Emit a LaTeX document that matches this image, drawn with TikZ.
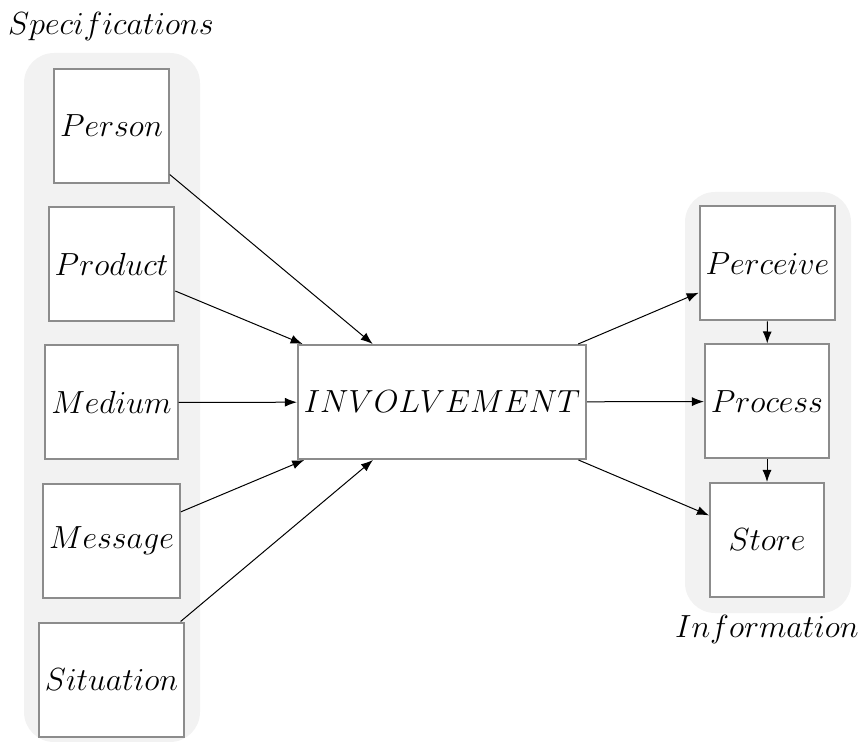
\documentclass[tikz,border=0pt]{standalone}
\usetikzlibrary{arrows.meta,backgrounds}
% let math italic scale to any size
\DeclareFontShape{OML}{cmm}{m}{it}{<-> cmmi12}{}
\definecolor{groupgray}{HTML}{F2F2F2}
\definecolor{boxedge}{HTML}{8C8C8C}
\tikzset{
  itembox/.style={draw=boxedge, line width=1pt, fill=white,
    minimum width=57pt, minimum height=57pt, inner xsep=3pt,
    font=\fontsize{16}{19}\selectfont},
  grouparea/.style={fill=groupgray, draw=none, rounded corners=15pt},
  grouplabel/.style={anchor=base, inner sep=0pt, font=\fontsize{16}{19}\selectfont},
  flow/.style={-{Latex[length=6pt,width=4.5pt]}, line width=0.5pt, black}
}
\begin{document}
\begin{tikzpicture}[x=0.5pt, y=-0.5pt]
  \useasboundingbox (0,0) rectangle (861,742);

  % left column: specifications
  \node[itembox] (person)    at (111.5,126)   {$Person$};
  \node[itembox] (product)   at (111.5,264.5) {$Product$};
  \node[itembox] (medium)    at (111.5,402.5) {$Medium$};
  \node[itembox] (message)   at (111.5,541)   {$Message$};
  \node[itembox] (situation) at (111.5,679.5) {$Situation$};

  % central node
  \node[itembox] (inv) at (442,402) {$INVOLVEMENT$};

  % right column: information handling
  \node[itembox] (perceive) at (767.5,263.5) {$Perceive$};
  \node[itembox] (process)  at (767,401.5)   {$Process$};
  \node[itembox] (store)    at (767,540)     {$Store$};

  % group labels
  \node[grouplabel] (speclabel) at (111,35)  {$Specifications$};
  \node[grouplabel] (infolabel) at (767,637) {$Information$};

  % shaded group areas
  \begin{scope}[on background layer]
    \fill[grouparea] (24,53) rectangle (200,742);
    \fill[grouparea] (685,192) rectangle (851,613);
  \end{scope}

  % connectors
  \draw[flow] (person)    -- (inv);
  \draw[flow] (product)   -- (inv);
  \draw[flow] (medium)    -- (inv);
  \draw[flow] (message)   -- (inv);
  \draw[flow] (situation) -- (inv);
  \draw[flow] (inv) -- (perceive);
  \draw[flow] (inv) -- (process);
  \draw[flow] (inv) -- (store);
  \draw[flow] (perceive) -- (process);
  \draw[flow] (process)  -- (store);
\end{tikzpicture}
\end{document}
